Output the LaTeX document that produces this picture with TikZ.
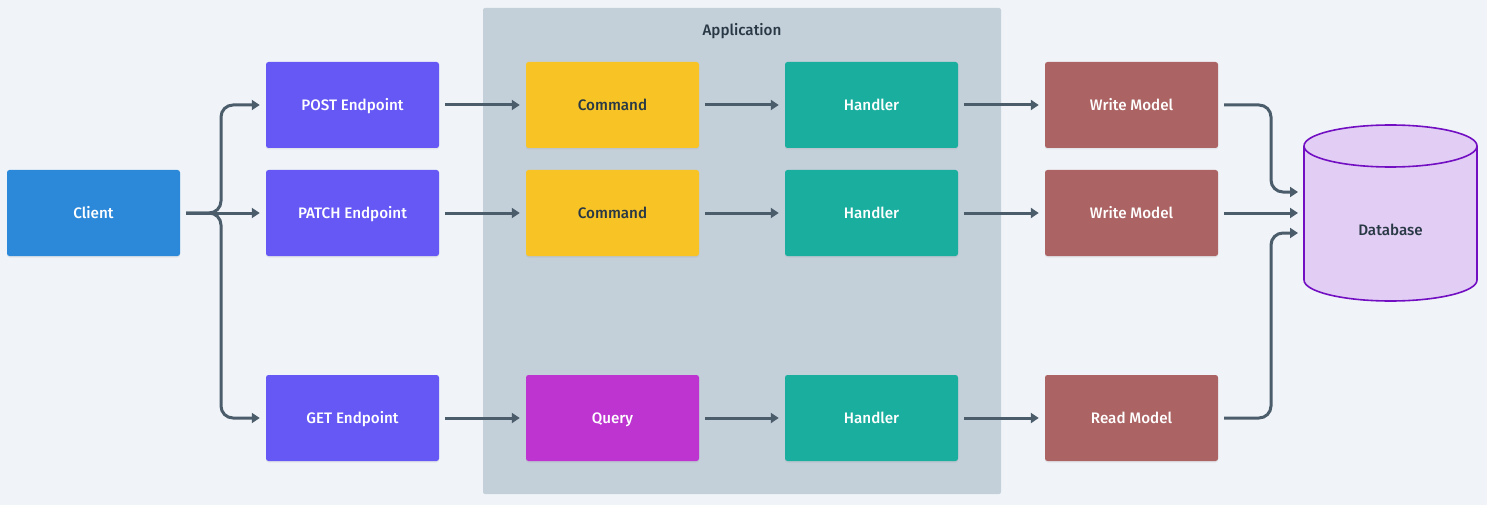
\documentclass[tikz,border=0pt]{standalone}
\usepackage{fontspec}
\setmainfont{Fira Sans}[UprightFont={* Medium}]
\usetikzlibrary{arrows.meta,shadows,calc}
\definecolor{bg}{HTML}{F0F4F8}
\definecolor{appbg}{HTML}{C3CFD9}
\definecolor{clientc}{HTML}{2C88D9}
\definecolor{endc}{HTML}{6558F5}
\definecolor{cmdc}{HTML}{F7C325}
\definecolor{handc}{HTML}{1AAE9F}
\definecolor{modelc}{HTML}{AC6363}
\definecolor{queryc}{HTML}{BD34D1}
\definecolor{dbfill}{HTML}{E2CDF4}
\definecolor{dbline}{HTML}{730FC3}
\definecolor{arrc}{HTML}{4B5C6B}
\definecolor{darktxt}{HTML}{293845}
\tikzset{
  lbl/.style={font=\fontsize{15.2}{17}\selectfont, text height=11.5pt, text depth=0pt},
  box/.style={rectangle, rounded corners=2.5pt, minimum width=173pt, minimum height=86pt,
    inner sep=0pt, text=white, lbl,
    drop shadow={opacity=0.12, shadow xshift=0pt, shadow yshift=-1.5pt}},
  conn/.style={draw=arrc, line width=3pt, rounded corners=12pt,
    -{Triangle[length=8pt,width=10pt]}, shorten <=6pt, shorten >=6pt},
}
\begin{document}
\begin{tikzpicture}[x=1pt,y=-1pt]
\useasboundingbox[fill=bg] (0,0) rectangle (1487,505);
% application container
\node[fill=appbg, rounded corners=2pt, minimum width=518pt, minimum height=486pt, inner sep=0pt] (app) at (742,251) {};
\node[text=darktxt, lbl] (applabel) at (742,30) {Application};
% nodes
\node[box, fill=clientc] (client) at (93.5,213) {Client};
\node[box, fill=endc] (post) at (352.5,105) {POST Endpoint};
\node[box, fill=endc] (patch) at (352.5,213) {PATCH Endpoint};
\node[box, fill=endc] (get) at (352.5,418) {GET Endpoint};
\node[box, fill=cmdc, text=darktxt] (cmd1) at (612.5,105) {Command};
\node[box, fill=cmdc, text=darktxt] (cmd2) at (612.5,213) {Command};
\node[box, fill=queryc] (query) at (612.5,418) {Query};
\node[box, fill=handc] (h1) at (871.5,105) {Handler};
\node[box, fill=handc] (h2) at (871.5,213) {Handler};
\node[box, fill=handc] (h3) at (871.5,418) {Handler};
\node[box, fill=modelc] (wm1) at (1131.5,105) {Write Model};
\node[box, fill=modelc] (wm2) at (1131.5,213) {Write Model};
\node[box, fill=modelc] (rm) at (1131.5,418) {Read Model};
% database cylinder
\fill[dbfill] (1304,146) -- (1304,280) arc[start angle=180,end angle=360,x radius=86.5pt,y radius=21pt]
  -- (1477,146) arc[start angle=0,end angle=180,x radius=86.5pt,y radius=21pt] -- cycle;
\draw[dbline, line width=1.6pt] (1304,146) -- (1304,280) arc[start angle=180,end angle=360,x radius=86.5pt,y radius=21pt]
  -- (1477,146);
\draw[dbline, line width=1.6pt] (1390.5,146) ellipse[x radius=86.5pt, y radius=21pt];
\node[minimum width=173pt, minimum height=176pt, inner sep=0pt, text=darktxt, lbl] (db) at (1390.5,230) {Database};
\coordinate (dbw) at (1304,213);
% client fan-out
\draw[conn] (client.east) -- (221,213) -- (221,105) -- (post.west);
\draw[conn] (client.east) -- (patch.west);
\draw[conn] (client.east) -- (221,213) -- (221,418) -- (get.west);
% rows
\draw[conn] (post.east) -- (cmd1.west);
\draw[conn] (cmd1.east) -- (h1.west);
\draw[conn] (h1.east) -- (wm1.west);
\draw[conn] (patch.east) -- (cmd2.west);
\draw[conn] (cmd2.east) -- (h2.west);
\draw[conn] (h2.east) -- (wm2.west);
\draw[conn] (get.east) -- (query.west);
\draw[conn] (query.east) -- (h3.west);
\draw[conn] (h3.east) -- (rm.west);
% to database
\draw[conn] (wm1.east) -- (1271,105) -- (1271,192) -- ([yshift=21pt]dbw);
\draw[conn] (wm2.east) -- (dbw);
\draw[conn] (rm.east) -- (1271,418) -- (1271,233) -- ([yshift=-20pt]dbw);
\end{tikzpicture}
\end{document}
